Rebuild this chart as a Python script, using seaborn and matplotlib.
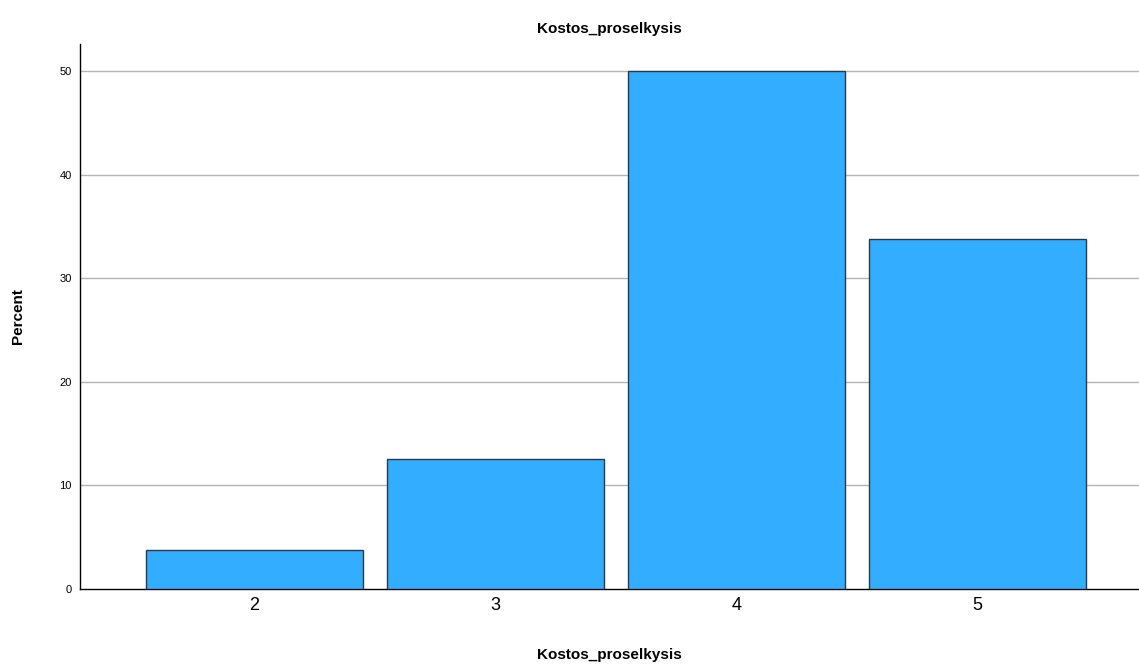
import matplotlib

matplotlib.use("Agg")

import matplotlib.pyplot as plt
import pandas as pd
import seaborn as sns

# Data
categories = ["2", "3", "4", "5"]
percents = [3.75, 12.5, 50.0, 33.75]

BAR_COLOR = "#32adff"
EDGE_COLOR = "#2b3a47"

sns.set_style("white")
plt.rcParams["font.family"] = ["Liberation Sans", "DejaVu Sans"]
plt.rcParams["text.color"] = "black"
plt.rcParams["axes.labelcolor"] = "black"
plt.rcParams["xtick.color"] = "black"
plt.rcParams["ytick.color"] = "black"

df = pd.DataFrame({"Kostos_proselkysis": categories, "Percent": percents})

fig = plt.figure(figsize=(11.39, 6.66), dpi=100)
ax = fig.add_axes([0.0702, 0.1156, 0.9298, 0.8183])

sns.barplot(
    data=df,
    x="Kostos_proselkysis",
    y="Percent",
    color=BAR_COLOR,
    saturation=1,
    width=0.9,
    edgecolor=EDGE_COLOR,
    linewidth=1.0,
    ax=ax,
    zorder=3,
)

ax.set_xlim(-0.724, 3.67)
ax.set_ylim(0, 52.6)
ax.set_yticks([0, 10, 20, 30, 40, 50])
for y in [10, 20, 30, 40, 50]:
    ax.axhline(y, color="#b4b4b4", linewidth=1.0, zorder=1)

for side in ["top", "right"]:
    ax.spines[side].set_visible(False)
for side in ["left", "bottom"]:
    ax.spines[side].set_color("black")
    ax.spines[side].set_linewidth(1.0)

ax.tick_params(axis="y", labelsize=8, length=0, pad=6)
ax.tick_params(axis="x", labelsize=13, length=0, pad=6)

ax.set_title("Kostos_proselkysis", fontsize=11, fontweight="bold", pad=8)
ax.set_xlabel("Kostos_proselkysis", fontsize=11, fontweight="bold")
ax.set_ylabel("Percent", fontsize=11, fontweight="bold")

# place axis labels explicitly (pixel positions from the reference)
ax.xaxis.set_label_coords((609 - 80) / 1059, -(655 - 589) / 545)
ax.yaxis.set_label_coords(-(80 - 18) / 1059, (589 - 316) / 545)
ax.xaxis.label.set_va("center")
ax.yaxis.label.set_va("center")

fig.savefig("out.png", dpi=100)
plt.close(fig)
